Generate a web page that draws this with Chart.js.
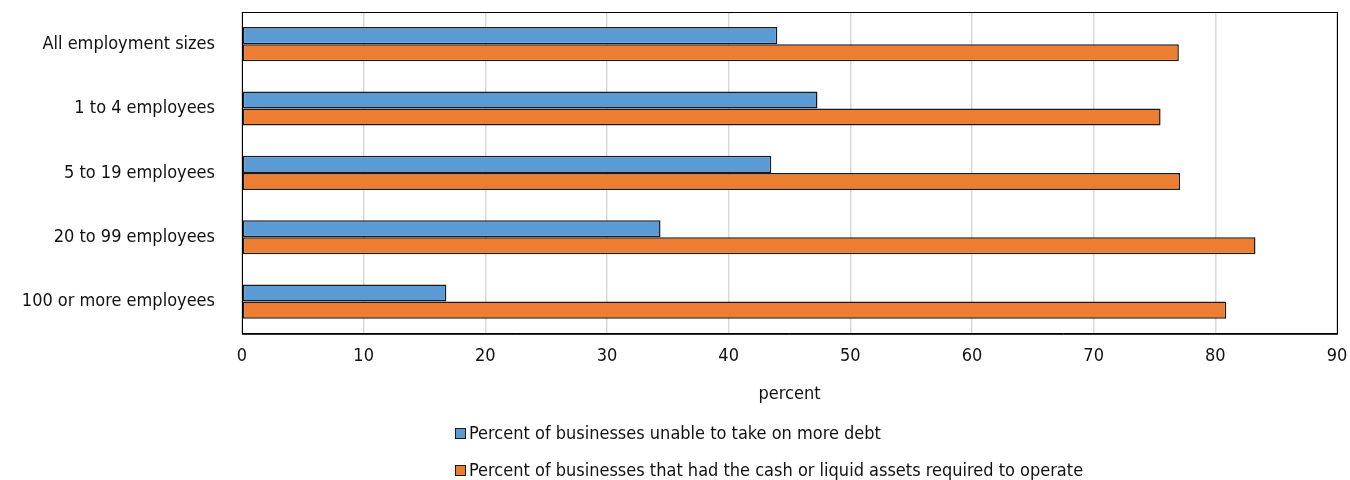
<!DOCTYPE html>
<html>
<head>
<meta charset="utf-8">
<script src="https://cdn.jsdelivr.net/npm/chart.js@4.4.1/dist/chart.umd.min.js"></script>
<style>
  html, body { margin: 0; padding: 0; background: #fff; }
  #wrap { width: 1350px; height: 480px; }
</style>
</head>
<body>
<div id="wrap"><canvas id="barChart" width="1350" height="480"></canvas></div>
<script>
// Data
const categories = ['All employment sizes', '1 to 4 employees', '5 to 19 employees', '20 to 99 employees', '100 or more employees'];
const debtValues = [44.0, 47.3, 43.5, 34.4, 16.8];
const cashValues = [77.0, 75.5, 77.1, 83.3, 80.9];
const seriesNames = ['Percent of businesses unable to take on more debt', 'Percent of businesses that had the cash or liquid assets required to operate'];
const xTicks = [0, 10, 20, 30, 40, 50, 60, 70, 80, 90];
const xTitle = 'percent';

const FONT = '"Liberation Sans Narrow", "DejaVu Sans Condensed", "Roboto", sans-serif';

// frame around the plot area + left-aligned legend under the chart
const framePlugin = {
    id: 'frame',
    afterDraw(chart) {
        const { ctx, chartArea } = chart;
        ctx.save();
        ctx.strokeStyle = '#000';
        ctx.lineWidth = 1;
        ctx.strokeRect(chartArea.left + 0.5, chartArea.top + 0.5, chartArea.right - chartArea.left, chartArea.bottom - chartArea.top);

        // legend
        const x = 455, rows = [433, 470];
        ctx.font = '18px ' + FONT;
        ctx.textBaseline = 'middle';
        chart.data.datasets.forEach((ds, i) => {
            const y = rows[i];
            ctx.fillStyle = ds.backgroundColor;
            ctx.fillRect(x, y - 5, 11, 11);
            ctx.strokeStyle = '#1a1a1a';
            ctx.lineWidth = 1;
            ctx.strokeRect(x + 0.5, y - 4.5, 10, 10);
            ctx.fillStyle = '#111';
            ctx.fillText(ds.label, x + 14, y + 1);
        });
        ctx.restore();
    }
};

const ctx = document.getElementById('barChart').getContext('2d');
new Chart(ctx, {
    type: 'bar',
    data: {
        labels: categories,
        datasets: [{
            label: seriesNames[0],
            data: debtValues,
            backgroundColor: '#5B9BD5',
            borderColor: '#1a1a1a',
            borderWidth: 1.5,
            borderSkipped: false
        }, {
            label: seriesNames[1],
            data: cashValues,
            backgroundColor: '#ED7D31',
            borderColor: '#1a1a1a',
            borderWidth: 1.5,
            borderSkipped: false
        }]
    },
    options: {
        indexAxis: 'y',
        responsive: false,
        animation: false,
        devicePixelRatio: 1,
        barPercentage: 1,
        categoryPercentage: 0.53,
        layout: { padding: { top: 12, right: 13, bottom: 75, left: 0 } },
        plugins: {
            legend: { display: false },
            tooltip: { enabled: false }
        },
        scales: {
            x: {
                min: 0,
                max: 90,
                afterBuildTicks: (axis) => { axis.ticks = xTicks.map(v => ({ value: v })); },
                afterFit: (axis) => { axis.paddingLeft = 0; axis.paddingRight = 0; },
                grid: { color: '#d9d9d9', lineWidth: 1.5, drawTicks: false },
                border: { display: true, color: '#000' },
                ticks: { color: '#111', padding: 12, font: { family: FONT, size: 18 } },
                title: { display: true, text: xTitle, color: '#111', padding: { top: 4, bottom: 0 }, font: { family: FONT, size: 18 } }
            },
            y: {
                afterFit: (axis) => { axis.width = 242; axis.paddingTop = 0; axis.paddingBottom = 0; },
                grid: { display: false, drawTicks: false },
                border: { display: true, color: '#000' },
                ticks: { color: '#111', padding: 27, font: { family: FONT, size: 18 } }
            }
        }
    },
    plugins: [framePlugin]
});
</script>
</body>
</html>
